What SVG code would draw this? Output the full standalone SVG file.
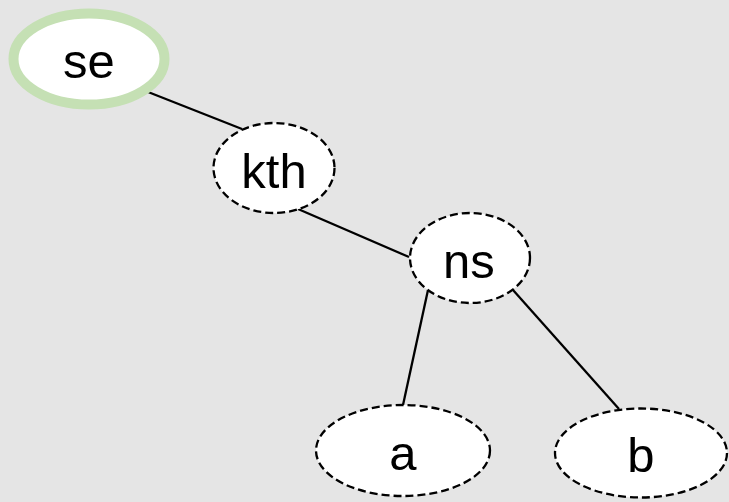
<svg xmlns="http://www.w3.org/2000/svg" width="729" height="502" viewBox="0 0 729 502">
<style>
.bg{fill:#e5e5e5}
.dash{fill:#ffffff;stroke:#000000;stroke-width:2.3;stroke-dasharray:8,4}
.root{fill:#ffffff;stroke:#c5e0b4;stroke-width:10}
.lbl{font-family:"Liberation Sans",Arial,sans-serif;font-size:49px;fill:#000000;text-anchor:middle}
.edge{stroke:#000000;stroke-width:2.3;fill:none}
</style>
<rect class="bg" x="0" y="0" width="729" height="502"/>
<g id="connectors">
<line class="edge" x1="143" y1="90" x2="242" y2="129"/>
<line class="edge" x1="298" y1="209" x2="409" y2="257"/>
<line class="edge" x1="428" y1="290" x2="403" y2="405"/>
<line class="edge" x1="513" y1="290" x2="619" y2="409"/>
</g>
<g id="se">
<ellipse class="root" cx="89" cy="59" rx="75.5" ry="45.5"/>
<text class="lbl" x="89" y="77.5">se</text>
</g>
<g id="kth">
<ellipse class="dash" cx="274" cy="168" rx="60.5" ry="45"/>
<text class="lbl" x="274" y="187.5">kth</text>
</g>
<g id="ns">
<ellipse class="dash" cx="470" cy="258" rx="60" ry="45"/>
<text class="lbl" x="469" y="277.5">ns</text>
</g>
<g id="a">
<ellipse class="dash" cx="403" cy="450.5" rx="87" ry="45.5"/>
<text class="lbl" x="403" y="469.5">a</text>
</g>
<g id="b">
<ellipse class="dash" cx="641" cy="453" rx="86" ry="44.5"/>
<text class="lbl" x="641" y="472">b</text>
</g>
</svg>
